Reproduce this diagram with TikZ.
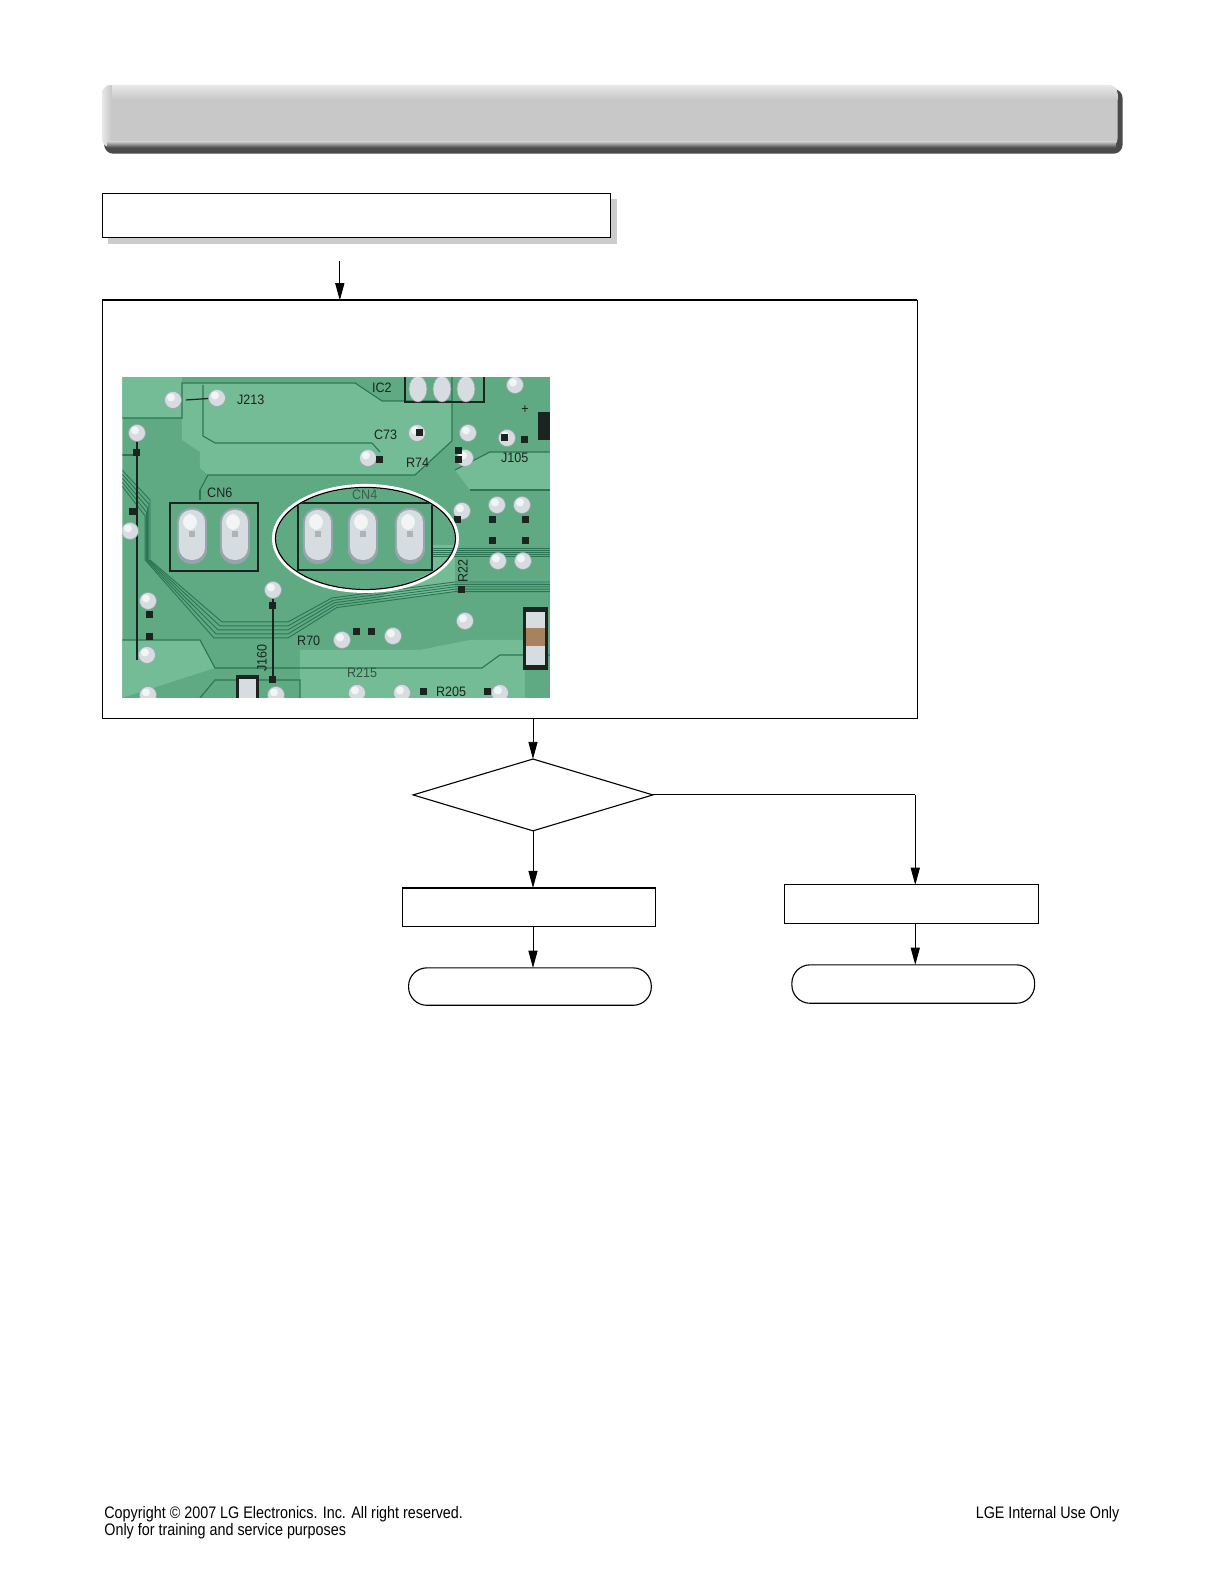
\documentclass[tikz,border=0pt]{standalone}
\usepackage{fontspec}
\setmainfont{Liberation Sans}
\newfontfamily\footfont{Liberation Sans}[FakeStretch=0.86]
\newfontfamily\silkfont{Liberation Sans}[FakeStretch=0.92]
\usetikzlibrary{arrows.meta,shapes.geometric}
\definecolor{hdrmid}{HTML}{C8C8C8}
\definecolor{hdrlight}{HTML}{E8E8E8}
\definecolor{hdrdark}{HTML}{4A4A4A}
\definecolor{shadowgray}{HTML}{CCCCCC}
\definecolor{pcbg}{HTML}{5FAA83}
\definecolor{pcbl}{HTML}{74BC96}
\definecolor{pcbd}{HTML}{2C7554}
\definecolor{padcol}{HTML}{D6DDE1}
\definecolor{padedge}{HTML}{98A4AC}
\definecolor{silk}{HTML}{1C2420}
\definecolor{chipbrown}{HTML}{A8825E}
\begin{document}
\begin{tikzpicture}[x=1pt,y=-1pt,
  box/.style={draw=black, line width=1.1pt, fill=white, inner sep=0pt, outer sep=0pt},
  term/.style={box, rounded corners=18pt},
  dia/.style={diamond, draw=black, line width=1.1pt, fill=white, inner sep=0pt, outer sep=0pt,
              minimum width=237pt, minimum height=71pt, aspect=3.34},
  arr/.style={-{Triangle[length=17pt,width=9pt]}, line width=0.9pt},
  conn/.style={line width=0.9pt},
  pad/.style={fill=padcol, draw=padedge, line width=0.6pt},
  trace/.style={draw=pcbd, line width=1.1pt},
  silkline/.style={draw=silk, line width=1.6pt},
  silktext/.style={font=\silkfont\fontsize{13.5}{13.5}\selectfont, text=silk, inner sep=0pt},
  foot/.style={font=\footfont\fontsize{16.5}{18}\selectfont, inner sep=0pt}
]
\useasboundingbox (0,0) rectangle (1210.2,1568.2);
\fill[white] (0,0) rectangle (1210.2,1568.2);

% ---------- header bar ----------
\fill[hdrdark, rounded corners=9pt] (103,88) rectangle (1110,152);
\begin{scope}
  \clip[rounded corners=9pt] (101,84) rectangle (1105,146);
  \fill[hdrmid] (101,84) rectangle (1105,146);
  \shade[top color=hdrlight, bottom color=hdrmid] (101,84) rectangle (1105,98);
  \shade[left color=hdrlight, right color=hdrmid] (101,84) rectangle (110,146);
\end{scope}
\shade[top color=hdrmid, bottom color=hdrdark] (106,140) rectangle (1103,146);

% ---------- first box ----------
\fill[shadowgray] (107,197) rectangle (610,241);
\node[box, minimum width=503pt, minimum height=44pt, anchor=north west] (b1) at (101,191) {};
\coordinate (a0) at (336,258);

% ---------- big box ----------
\node[box, minimum width=806pt, minimum height=413pt, anchor=north west] (big) at (101,297) {};
\draw[line width=1.8pt] (big.north west) -- (big.north east);
\draw[arr] (a0) -- (big.north -| a0);

% ---------- PCB photo (coordinates measured at full scale) ----------
\begin{scope}[scale=0.9887]
  \clip (122.4,377.3) rectangle (550.2,697.9);
  \fill[pcbg] (122.4,377.3) rectangle (550.2,697.9);
  % lighter copper planes
  \fill[pcbl] (182,383) -- (355,383) -- (382,401) -- (452,401) -- (452,441) -- (415,475) -- (208,475) -- (200,468) -- (200,452) -- (182,440) -- cycle;
  \fill[pcbl] (455,470) -- (490,452) -- (550,452) -- (550,490) -- (470,490) -- cycle;
  \fill[pcbl] (122,640) -- (200,640) -- (215,668) -- (122,698) -- cycle;
  \fill[pcbl] (300,650) -- (420,650) -- (470,640) -- (525,640) -- (525,698) -- (300,698) -- cycle;
  \fill[pcbl] (380,600) -- (455,592) -- (455,545) -- (432,545) -- (432,572) -- (390,590) -- cycle;
  \fill[pcbl] (122,377) -- (182,377) -- (182,418) -- (122,418) -- cycle;
  % plane outlines
  \draw[trace] (122,418) -- (182,418) -- (182,383) -- (355,383) -- (382,401) -- (452,401);
  \draw[trace] (203,385) -- (203,436) -- (215,443) -- (372,443) -- (380,452);
  \draw[trace] (200,490) -- (208,475) -- (415,475) -- (452,441) -- (452,377);
  \draw[trace] (122,455) -- (137,455) -- (137,470);
  \draw[trace] (200,490) -- (200,500);
  \draw[trace] (455,470) -- (490,452) -- (550,452);
  \draw[trace] (470,490) -- (550,490);
  \draw[trace] (122,640) -- (200,640) -- (215,668) -- (482,668) -- (500,655) -- (550,655);
  \draw[trace] (200,698) -- (215,680) -- (300,680) -- (300,698);
  % trace bundles
  \foreach \d in {0,4,8,12,16} {
    \draw[trace, line width=0.9pt] (122,{470+\d}) -- ({150-\d*0.3},{500+\d}) -- ({150-\d*0.3},560) -- ({222-\d*0.5},{622+\d}) -- (288,{622+\d}) -- ({332+\d*0.3},{598+\d*0.6}) -- (455,{582+\d*0.6}) -- (550,{582+\d*0.6});
    \draw[trace, line width=0.9pt] (432,{548+\d*0.5}) -- (550,{548+\d*0.5});
  }
  % silkscreen lines
  \draw[silk, line width=1.2pt] (137,440) -- (137,660);
  \draw[silk, line width=1.2pt] (273,595) -- (273,682);
  \draw[silk, line width=1.2pt] (186,400) -- (217,398);
  % connector outlines
  \draw[silkline] (170,503) rectangle (258,571);
  \draw[silkline] (298,503) rectangle (432,570);
  \draw[silkline] (405,375) rectangle (484,402);
  % IC2 pads
  \foreach \x in {418,442,466} \draw[pad] (\x,389) ellipse (9pt and 13pt);
  % oval pads in connectors
  \foreach \x in {192,235,318,363,410} {
    \fill[padedge, rounded corners=14pt] ({\x-15},508) rectangle ({\x+15},564);
    \fill[padcol, rounded corners=12pt] ({\x-13},510) rectangle ({\x+13},560);
    \fill[white, opacity=0.7, rounded corners=8pt] ({\x-9},514) rectangle ({\x+5},530);
    \fill[gray!60] ({\x-3},531) rectangle ({\x+3},537);
  }
  % round pads
  \foreach \p in {(173,400),(217,398),(137,433),(130,531),(148,601),(147,655),(368,458),(417,433),(468,433),(465,458),(507,438),(462,511),(497,505),(522,505),(498,561),(523,561),(465,621),(342,640),(393,636),(273,590),(148,695),(357,693),(402,693),(500,693),(276,695),(515,385)} {
    \draw[pad] \p circle (8.5pt);
    \fill[white, opacity=0.7] \p ++(-2,-2.5) circle (4pt);
  }
  % pad stems / dark squares
  \foreach \p in {(137,453),(133,512),(150,615),(150,637),(273,606),(273,680),(380,460),(459,451),(459,460),(505,438),(525,440),(462,590),(458,520),(493,520),(526,520),(493,541),(526,541),(357,632),(372,632),(420,433),(424,692),(488,692)}
    \fill[silk] \p ++(-3.5,-3.5) rectangle ++(7,7);
  % chips
  \fill[silk] (523,607) rectangle (548,670);
  \fill[padcol] (526,612) rectangle (545,665);
  \fill[chipbrown] (526,628) rectangle (545,646);
  \fill[silk] (236,675) rectangle (259,698);
  \fill[padcol] (239,679) rectangle (256,698);
  \fill[silk] (538,412) rectangle (550,440);
  % silkscreen labels
  \node[silktext, anchor=west] (tJ213) at (237,400) {J213};
  \node[silktext, anchor=west] (tIC2) at (372,388) {IC2};
  \node[silktext, anchor=west] (tC73) at (374,435) {C73};
  \node[silktext, anchor=west] (tR74) at (406,463) {R74};
  \node[silktext, anchor=west] (tJ105) at (501,458) {J105};
  \node[silktext] (tplus) at (525,410) {+};
  \node[silktext, anchor=west] (tCN6) at (207,493) {CN6};
  \node[silktext, anchor=west, text=silk!55!pcbg] (tCN4) at (352,495) {CN4};
  \node[silktext, rotate=90] (tR22) at (463,571) {R22};
  \node[silktext, anchor=west] (tR70) at (297,641) {R70};
  \node[silktext, anchor=west, text=silk!65!pcbg] (tR215) at (347,673) {R215};
  \node[silktext, anchor=west] (tR205) at (436,692) {R205};
  \node[silktext, rotate=90] (tJ160) at (262,658) {J160};
\end{scope}
% highlight ellipse
\begin{scope}[scale=0.9887]
  \draw[white, line width=4pt] (365.5,538.5) ellipse (91.5pt and 52.5pt);
  \draw[black, line width=1.2pt] (365.5,538.5) ellipse (90pt and 51pt);
\end{scope}

% ---------- decision and branches ----------
\node[dia] (d) at (527,786) {};
\draw[arr] (big.south -| d.north) -- (d.north);

\node[box, minimum width=250pt, minimum height=38pt, anchor=north west] (bl) at (398,878) {};
\node[box, minimum width=251pt, minimum height=38pt, anchor=north west] (br) at (776,875) {};
\node[term, minimum width=240pt, minimum height=37pt, anchor=north west] (tl) at (404,957) {};
\node[term, minimum width=240pt, minimum height=38pt, anchor=north west] (tr) at (783,954) {};

\coordinate (rc) at (905,786);
\draw[arr] (d.south) -- (d.south |- bl.north);
\draw[conn] (d.east) -- (rc);
\draw[arr] (rc) -- (rc |- br.north);
\draw[arr] (bl.south -| d.south) -- (tl.north -| d.south);
\draw[arr] (br.south -| rc) -- (tr.north -| rc);

% ---------- footer ----------
\node[foot, anchor=base west] (f1) at (103,1501) {Copyright \textcopyright{} 2007 LG Electronics. Inc. All right reserved.};
\node[foot, anchor=base west] (f2) at (103,1518) {Only for training and service purposes};
\node[foot, anchor=base east] (f3) at (1107,1501) {LGE Internal Use Only};
\end{tikzpicture}
\end{document}
